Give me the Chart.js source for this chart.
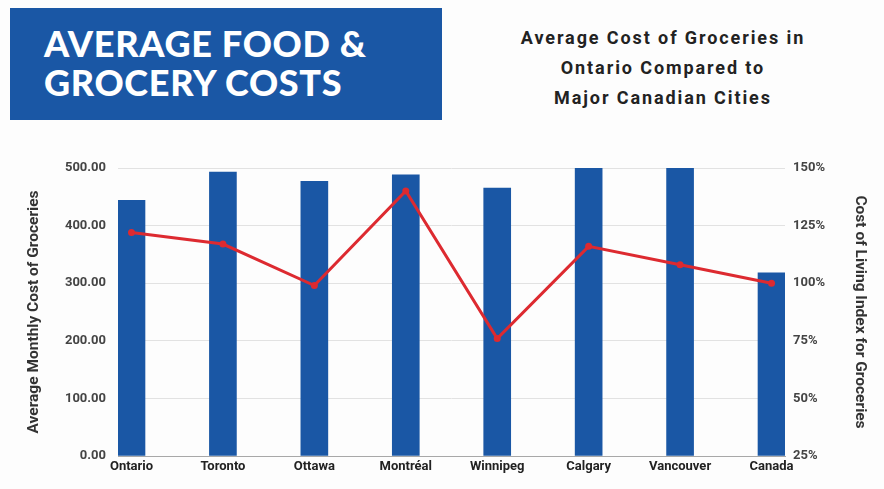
<!DOCTYPE html>
<html>
<head>
<meta charset="utf-8">
<script src="https://cdn.jsdelivr.net/npm/chart.js@4"></script>
<style>
    html, body { margin: 0; padding: 0; background: #fdfdfd; }
    body { width: 884px; height: 489px; position: relative; overflow: hidden; font-family: 'Roboto', sans-serif; }
    .banner {
        position: absolute; left: 10px; top: 8px; width: 432px; height: 112px;
        background: #1a57a5; box-sizing: border-box; padding: 16px 0 0 34px;
        color: #fff; font-family: 'Lato', sans-serif; font-weight: 900;
        font-size: 36px; line-height: 39px; letter-spacing: 0.7px;
    }
    .subtitle {
        position: absolute; left: 463px; top: 23px; width: 400px; text-align: center;
        color: #222; font-family: 'Roboto', sans-serif; font-weight: bold;
        font-size: 18px; line-height: 30px; letter-spacing: 1.9px;
    }
    .chart-wrap { position: absolute; left: 0; top: 140px; width: 884px; height: 349px; }
</style>
</head>
<body>
<div class="banner">AVERAGE FOOD &amp;<br>GROCERY COSTS</div>
<div class="subtitle">Average Cost of Groceries in<br>Ontario Compared to<br>Major Canadian Cities</div>
<div class="chart-wrap"><canvas id="groceryChart"></canvas></div>

<script>
// ===== DATA =====
const categories = ['Ontario', 'Toronto', 'Ottawa', 'Montréal', 'Winnipeg', 'Calgary', 'Vancouver', 'Canada'];
const monthlyCost = [444, 493, 477, 488, 465, 500, 500, 318];
const livingIndex = [122, 117, 99, 140, 76, 116, 108, 100];
const costTicks = [0, 100, 200, 300, 400, 500];
const indexTicks = [25, 50, 75, 100, 125, 150];

document.addEventListener('DOMContentLoaded', function() {

    const ctx = document.getElementById('groceryChart');
    const axisFont = { family: 'Roboto', size: 13, weight: 'bold' };
    const titleFont = { family: 'Roboto', size: 15.5, weight: 'bold' };

    new Chart(ctx, {
        type: 'bar',
        data: {
            datasets: [{
                type: 'line',
                label: 'Cost of Living Index for Groceries',
                data: livingIndex.map((v, i) => ({ x: i, y: v })),
                yAxisID: 'y1',
                borderColor: '#dd2a30',
                backgroundColor: '#dd2a30',
                borderWidth: 3,
                pointRadius: 3.5,
                pointBorderWidth: 0,
                tension: 0,
                order: 0
            }, {
                label: 'Average Monthly Cost of Groceries',
                data: monthlyCost.map((v, i) => ({ x: i, y: v })),
                yAxisID: 'y',
                backgroundColor: '#1a57a5',
                barThickness: 27,
                order: 1
            }]
        },
        options: {
            responsive: true,
            maintainAspectRatio: false,
            animation: false,
            layout: { padding: { left: 22, right: 10, top: 28, bottom: 0 } },
            plugins: {
                legend: { display: false },
                tooltip: { enabled: false }
            },
            scales: {
                x: {
                    type: 'linear',
                    offset: false,
                    min: -0.1475,
                    max: 7.1475,
                    afterBuildTicks: function(scale) {
                        scale.ticks = categories.map((c, i) => ({ value: i }));
                    },
                    afterFit: function(scale) { scale.height = 33; },
                    grid: { display: false, drawTicks: false },
                    border: { display: true, color: '#a8a8a8', width: 1 },
                    ticks: {
                        padding: 3,
                        autoSkip: false,
                        maxRotation: 0,
                        color: '#222',
                        font: axisFont,
                        callback: function(value) { return categories[value] || ''; }
                    }
                },
                y: {
                    position: 'left',
                    min: costTicks[0],
                    max: costTicks[costTicks.length - 1],
                    afterBuildTicks: function(scale) {
                        scale.ticks = costTicks.map(v => ({ value: v }));
                    },
                    afterFit: function(scale) { scale.width = 96; },
                    grid: { color: '#e2e2e2', drawTicks: false },
                    border: { display: false },
                    ticks: {
                        padding: 12,
                        color: '#444',
                        font: axisFont,
                        callback: function(value) { return value.toFixed(2); }
                    },
                    title: {
                        display: true,
                        text: 'Average Monthly Cost of Groceries',
                        color: '#333',
                        font: titleFont,
                        padding: { top: 3, bottom: 0 }
                    }
                },
                y1: {
                    position: 'right',
                    min: indexTicks[0],
                    max: indexTicks[indexTicks.length - 1],
                    afterBuildTicks: function(scale) {
                        scale.ticks = indexTicks.map(v => ({ value: v }));
                    },
                    afterFit: function(scale) { scale.width = 89; },
                    grid: { display: false, drawTicks: false },
                    border: { display: false },
                    ticks: {
                        padding: 8,
                        color: '#444',
                        font: axisFont,
                        callback: function(value) { return value + '%'; }
                    },
                    title: {
                        display: true,
                        text: 'Cost of Living Index for Groceries',
                        color: '#333',
                        font: titleFont,
                        padding: { top: 5, bottom: 0 }
                    }
                }
            }
        }
    });
});
</script>
</body>
</html>
